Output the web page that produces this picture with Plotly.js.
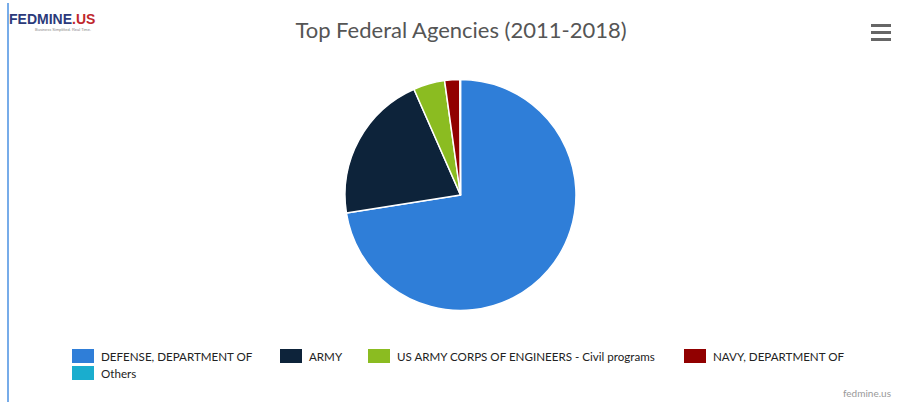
<!DOCTYPE html>
<html>
<head>
<meta charset="utf-8">
<script src="https://cdn.plot.ly/plotly-3.0.1.min.js"></script>
<style>
html,body{margin:0;padding:0;background:#fff;}
#chart{width:908px;height:405px;}
</style>
</head>
<body>
<div id="chart"></div>
<script>
var agencies = ["DEFENSE, DEPARTMENT OF", "ARMY", "US ARMY CORPS OF ENGINEERS - Civil programs", "NAVY, DEPARTMENT OF", "Others"];
var amounts = [72.5, 20.9, 4.4, 2.1, 0.1];
var sliceColors = ["#2f7ed8", "#0d233a", "#8bbc21", "#910000", "#1aadce"];

var W = 908, H = 405;
function px(x){ return x / W; }
function py(y){ return 1 - y / H; }

var trace = {
  type: "pie",
  labels: agencies,
  values: amounts,
  sort: false,
  direction: "clockwise",
  rotation: 0,
  marker: {colors: sliceColors, line: {color: "#ffffff", width: 1.5}},
  textinfo: "none",
  hoverinfo: "label+percent",
  showlegend: false,
  domain: {x: [px(345), px(576)], y: [py(311), py(79)]}
};

// legend layout (pixel positions of each entry: swatch left, row centre)
var legendX = [72, 280, 368, 684, 72];
var legendY = [356, 356, 356, 356, 373];

var shapes = [
  {type: "line", xref: "paper", yref: "paper", x0: px(8), x1: px(8), y0: py(402), y1: py(3), line: {color: "#4a90e2", width: 1.5}},
  {type: "line", xref: "paper", yref: "paper", x0: px(871), x1: px(891), y0: py(25.5), y1: py(25.5), line: {color: "#666666", width: 3}},
  {type: "line", xref: "paper", yref: "paper", x0: px(871), x1: px(891), y0: py(32.5), y1: py(32.5), line: {color: "#666666", width: 3}},
  {type: "line", xref: "paper", yref: "paper", x0: px(871), x1: px(891), y0: py(39.5), y1: py(39.5), line: {color: "#666666", width: 3}}
];
var annotations = [
  {text: "<b><span style='color:#2b3a7a'>FEDMINE</span><span style='color:#c0272d'>.US</span></b>", xref: "paper", yref: "paper",
   x: px(7), y: py(19), xanchor: "left", yanchor: "middle", showarrow: false,
   font: {family: "'Liberation Sans Narrow', 'Liberation Sans', sans-serif", size: 14}},
  {text: "Business Simplified. Real Time.", xref: "paper", yref: "paper",
   x: px(33), y: py(29), xanchor: "left", yanchor: "middle", showarrow: false,
   font: {family: "'Liberation Sans', sans-serif", size: 4, color: "#888888"}},
  {text: "fedmine.us", xref: "paper", yref: "paper", x: px(893), y: py(393),
   xanchor: "right", yanchor: "middle", showarrow: false,
   font: {family: "Lato, 'Open Sans', sans-serif", size: 10, color: "#999999"}}
];

agencies.forEach(function(name, i){
  shapes.push({type: "rect", xref: "paper", yref: "paper",
    x0: px(legendX[i]), x1: px(legendX[i] + 22), y0: py(legendY[i] + 7), y1: py(legendY[i] - 7),
    fillcolor: sliceColors[i], line: {width: 0}});
  annotations.push({text: name, xref: "paper", yref: "paper",
    x: px(legendX[i] + 27), y: py(legendY[i]), xanchor: "left", yanchor: "middle", showarrow: false,
    font: {family: "Lato, 'Open Sans', sans-serif", size: 11.6, color: "#222222"}});
});

var layout = {
  width: W, height: H,
  margin: {l: 0, r: 0, t: 0, b: 0},
  paper_bgcolor: "#ffffff",
  font: {family: "Lato, 'Open Sans', sans-serif", color: "#333333", size: 12},
  title: {text: "Top Federal Agencies (2011-2018)", x: px(461), xanchor: "center", y: py(30), yanchor: "middle",
          font: {family: "Lato, 'Open Sans', sans-serif", size: 22, color: "#555555"}},
  showlegend: false,
  shapes: shapes,
  annotations: annotations
};

Plotly.newPlot("chart", [trace], layout, {displayModeBar: false});
</script>
</body>
</html>
